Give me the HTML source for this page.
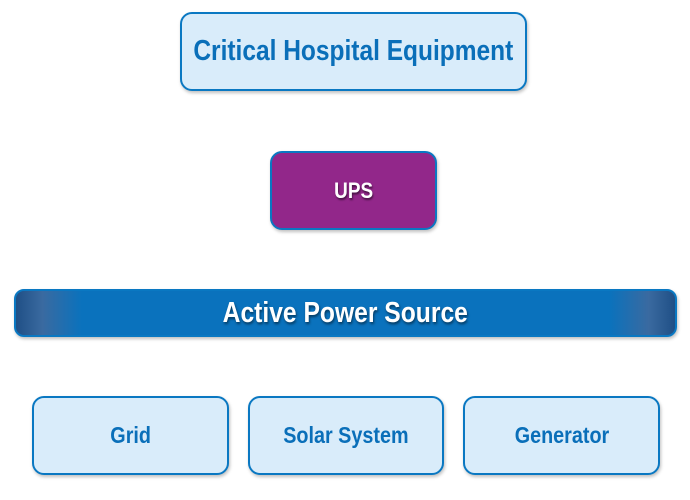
<!DOCTYPE html>
<html><head><style>
body{margin:0;width:690px;height:500px;background:#fff;position:relative;overflow:hidden;font-family:"Liberation Sans",sans-serif;font-weight:bold}
.b{position:absolute;box-sizing:border-box;border:2px solid #0a78c2;border-radius:12px;background:#d9ecfa;color:#0a6fb9;display:flex;align-items:center;justify-content:center;box-shadow:1px 2px 3px rgba(0,0,0,0.25);white-space:nowrap}
.b span{display:inline-block;transform:scaleX(0.86)}
</style></head><body>
<div class="b" style="left:180px;top:12px;width:347px;height:79px;font-size:29px"><span style="transform:scaleX(0.845)">Critical Hospital Equipment</span></div>
<div class="b" style="left:270px;top:151px;width:167px;height:79px;background:#92278a;color:#fff;font-size:22px;text-shadow:1px 2px 2px rgba(0,0,0,0.5)"><span>UPS</span></div>
<div class="b" style="left:14px;top:289px;width:663px;height:48px;border-radius:10px;background:linear-gradient(90deg,#1f4f86 0%,#3a6aa0 4%,#0a72bd 10%,#0a72bd 90%,#3a6aa0 96%,#1f4f86 100%);color:#fff;font-size:29px;text-shadow:1px 2px 3px rgba(0,0,0,0.5)"><span style="transform:scaleX(0.85)">Active Power Source</span></div>
<div class="b" style="left:32px;top:396px;width:197px;height:79px;font-size:23px"><span>Grid</span></div>
<div class="b" style="left:248px;top:396px;width:196px;height:79px;font-size:23px"><span>Solar System</span></div>
<div class="b" style="left:463px;top:396px;width:197px;height:79px;font-size:23px"><span>Generator</span></div>
</body></html>
